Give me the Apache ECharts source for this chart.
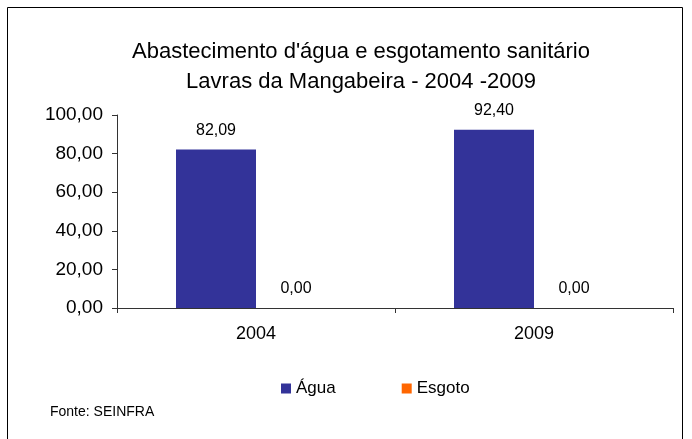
<!DOCTYPE html>
<html>
<head>
<meta charset="utf-8">
<script src="https://cdn.jsdelivr.net/npm/echarts@6/dist/echarts.min.js"></script>
<style>
  html, body { margin: 0; padding: 0; background: #fff; }
  #chart { width: 692px; height: 439px; }
</style>
</head>
<body>
<div id="chart"></div>
<script>
// Years on the x axis
const years = ["2004", "2009"];
// Percent values per series
const agua = [82.09, 92.40];
const esgoto = [0.00, 0.00];
const seriesNames = ["Água", "Esgoto"];

const font = "Liberation Sans, Arial, sans-serif";
const fmt = (v) => Number(v).toFixed(2).replace(".", ",");

const chart = echarts.init(document.getElementById("chart"));

const option = {
    backgroundColor: "#fff",
    animation: false,
    title: {
        text: "Abastecimento d'água e esgotamento sanitário\nLavras da Mangabeira - 2004 -2009",
        left: 356,
        top: 32,
        textAlign: "center",
        textStyle: {
            fontFamily: font,
            fontSize: 22,
            fontWeight: "normal",
            color: "#000",
            lineHeight: 30,
        },
    },
    legend: {
        data: seriesNames,
        left: 276,
        top: 375,
        itemWidth: 10,
        itemHeight: 10,
        itemGap: 66,
        icon: "rect",
        textStyle: { fontFamily: font, fontSize: 17, color: "#000", padding: [0, 0, 0, 0] },
    },
    grid: { left: 117, right: 19, top: 115, bottom: 131 },
    xAxis: {
        type: "category",
        data: years,
        axisLine: { lineStyle: { color: "#333" } },
        axisTick: { show: true, length: 5, lineStyle: { color: "#333" } },
        axisLabel: { fontFamily: font, fontSize: 18, color: "#000", margin: 17 },
    },
    yAxis: {
        type: "value",
        min: 0,
        max: 100,
        interval: 20,
        axisLine: { show: true, lineStyle: { color: "#333" } },
        axisTick: { show: true, length: 5, lineStyle: { color: "#333" } },
        splitLine: { show: false },
        axisLabel: {
            fontFamily: font,
            fontSize: 19,
            color: "#000",
            margin: 14,
            formatter: (v) => fmt(v),
        },
    },
    series: [
        {
            name: seriesNames[0],
            type: "bar",
            data: agua,
            barWidth: 80,
            barGap: "0%",
            itemStyle: { color: "#333399" },
            label: {
                show: true,
                position: "top",
                distance: 11,
                fontFamily: font,
                fontSize: 16,
                color: "#000",
                formatter: (p) => fmt(p.value),
            },
        },
        {
            name: seriesNames[1],
            type: "bar",
            data: esgoto,
            barWidth: 80,
            barGap: "0%",
            itemStyle: { color: "#FF6600" },
            label: {
                show: true,
                position: "top",
                distance: 11,
                fontFamily: font,
                fontSize: 16,
                color: "#000",
                formatter: (p) => fmt(p.value),
            },
        },
    ],
    graphic: [
        {
            type: "rect",
            shape: { x: 7.5, y: 7.5, width: 675, height: 500 },
            style: { fill: null, stroke: "#000", lineWidth: 1 },
            silent: true,
        },
        {
            type: "text",
            left: 50,
            top: 405,
            style: { text: "Fonte: SEINFRA", fontFamily: font, fontSize: 14, fill: "#000" },
        },
    ],
};

chart.setOption(option);
</script>
</body>
</html>
